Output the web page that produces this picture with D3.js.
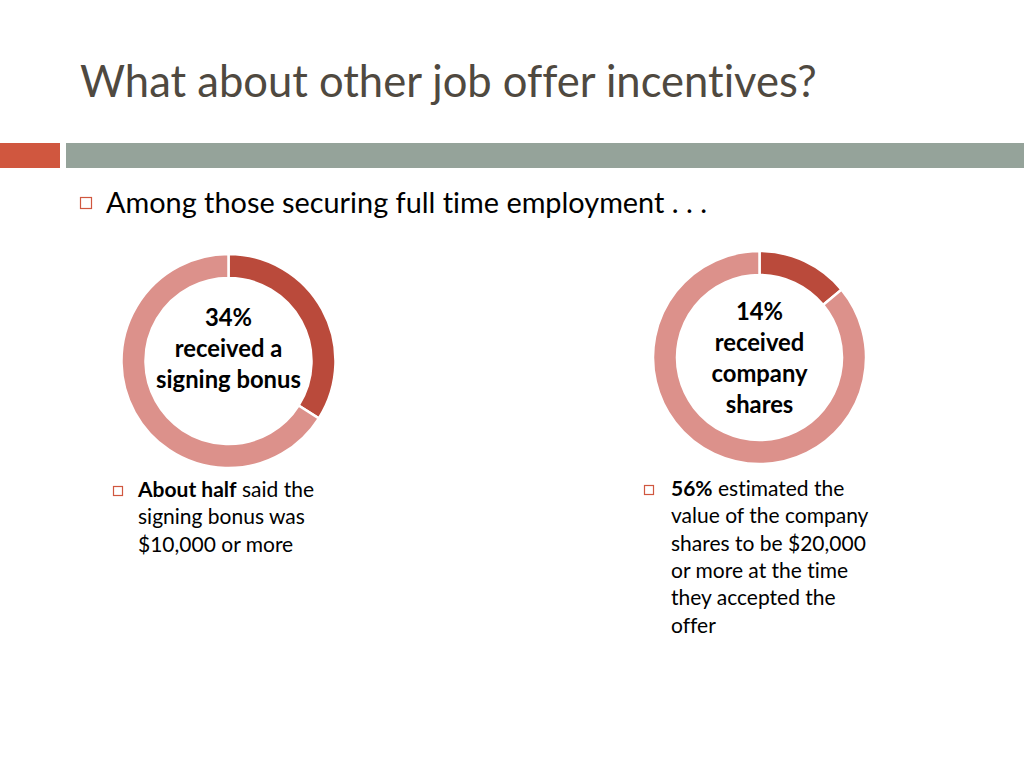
<!DOCTYPE html>
<html><head><meta charset="utf-8">
<script src="https://cdn.jsdelivr.net/npm/d3@7"></script>
<style>body{margin:0;background:#fff;} svg{display:block;} text{font-variant-ligatures:none;font-feature-settings:"liga" 0,"clig" 0;}</style>
</head><body>
<svg id="chart" width="1024" height="768"></svg>
<script>
const titleText = "What about other job offer incentives?";
const introText = "Among those securing full time employment . . .";
const donutLabels = ["received", "not received"];
const bonusValues = [34, 66];
const sharesValues = [14, 86];
const bonusCenter = ["34%", "received a", "signing bonus"];
const sharesCenter = ["14%", "received", "company", "shares"];
const bonusNote = [[{t:"About half", b:true},{t:" said the", b:false}], [{t:"signing bonus was", b:false}], [{t:"$10,000 or more", b:false}]];
const sharesNote = [[{t:"56%", b:true},{t:" estimated the", b:false}], [{t:"value of the company", b:false}], [{t:"shares to be $20,000", b:false}], [{t:"or more at the time", b:false}], [{t:"they accepted the", b:false}], [{t:"offer", b:false}]];

const FONT = "Lato, 'Open Sans', sans-serif";
const svg = d3.select("#chart");

function fitWidth(sel, target, size) {
  const w = sel.node().getComputedTextLength();
  sel.attr("font-size", size * target / w);
}

// title
const title = svg.append("text").attr("x", 80).attr("y", 97).attr("font-family", FONT)
  .attr("fill", "#4f4940").attr("font-size", 44).text(titleText);
fitWidth(title, 737, 44);

// bars
svg.append("rect").attr("x", 0).attr("y", 143).attr("width", 60).attr("height", 25).attr("fill", "#d0573f");
svg.append("rect").attr("x", 66).attr("y", 143).attr("width", 958).attr("height", 25).attr("fill", "#95a39a");

// bullets
function bullet(x, y, s) {
  svg.append("rect").attr("x", x + 0.5).attr("y", y + 0.5).attr("width", s).attr("height", s)
    .attr("fill", "#fff").attr("stroke", "#d0573f").attr("stroke-width", 1.2);
}
bullet(80, 197, 11);
const intro = svg.append("text").attr("x", 106).attr("y", 213).attr("font-family", FONT)
  .attr("fill", "#000").attr("font-size", 27).text(introText);
fitWidth(intro, 601, 27);

// donuts
const pie = d3.pie().sort(null).value(d => d);
const color = d3.scaleOrdinal().domain([0, 1]).range(["#ba4a3b", "#dc918b"]);

function donut(cx, cy, rOuter, values, centerLines, firstBase, step) {
  const arc = d3.arc().innerRadius(rOuter - 24).outerRadius(rOuter);
  const g = svg.append("g").attr("transform", `translate(${cx},${cy})`);
  g.selectAll("path").data(pie(values)).join("path")
    .attr("d", arc).attr("fill", (d, i) => color(i))
    .attr("stroke", "#fff").attr("stroke-width", 2.5);
  g.selectAll("text").data(centerLines).join("text")
    .attr("x", 0).attr("y", (d, i) => firstBase - cy + i * step)
    .attr("text-anchor", "middle").attr("font-family", FONT).attr("font-weight", "bold")
    .attr("font-size", 23.8).attr("fill", "#000").text(d => d);
}
donut(228.5, 361, 107, bonusValues, bonusCenter, 326, 31);
donut(759.5, 357.5, 106.5, sharesValues, sharesCenter, 320, 31);

// notes
function note(bx, by, tx, firstBase, lines) {
  bullet(bx, by, 9);
  const t = svg.append("text").attr("font-family", FONT).attr("font-size", 21).attr("fill", "#000");
  lines.forEach((line, i) => {
    line.forEach((seg, j) => {
      const ts = t.append("tspan").attr("font-weight", seg.b ? "bold" : "normal").text(seg.t);
      if (j === 0) ts.attr("x", tx).attr("y", firstBase + i * 27.3);
    });
  });
}
note(113, 486, 138, 497, bonusNote);
note(644, 485, 671, 496, sharesNote);
</script>
</body></html>
